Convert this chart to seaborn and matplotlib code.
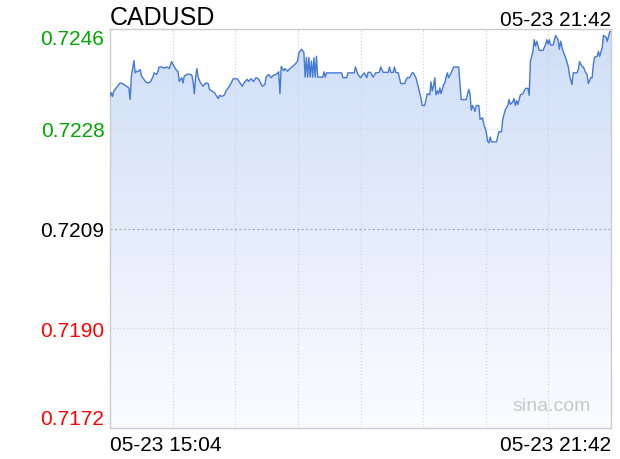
import numpy as np
import pandas as pd
import matplotlib
matplotlib.use("Agg")
import matplotlib.pyplot as plt
from matplotlib.colors import LinearSegmentedColormap
import seaborn as sns

# intraday CADUSD quotes, minutes after 15:04
minutes_a = [0, 1, 2, 3, 5, 8, 10, 13, 15, 16,
             17, 18, 19, 20, 21, 22, 24, 25, 26, 28,
             30, 32, 34, 35, 37, 38, 39, 41, 43, 45,
             47, 49, 50, 51, 53, 54, 55, 57, 58, 59,
             62, 65, 66, 67, 68, 69, 70, 72, 74, 76,
             78, 79, 81, 83, 84, 86, 87, 89, 91, 92,
             94, 96, 98, 101]
prices_a = [0.72337, 0.72344, 0.72337, 0.72347, 0.72353, 0.72362, 0.72361, 0.72356, 0.72353, 0.72331,
            0.72375, 0.72390, 0.72404, 0.72381, 0.72384, 0.72383, 0.72387, 0.72375, 0.72372, 0.72365,
            0.72362, 0.72364, 0.72373, 0.72381, 0.72378, 0.72383, 0.72392, 0.72392, 0.72390, 0.72392,
            0.72389, 0.72402, 0.72397, 0.72393, 0.72385, 0.72384, 0.72365, 0.72372, 0.72362, 0.72375,
            0.72379, 0.72377, 0.72365, 0.72342, 0.72373, 0.72389, 0.72373, 0.72362, 0.72356, 0.72362,
            0.72361, 0.72350, 0.72347, 0.72344, 0.72340, 0.72333, 0.72339, 0.72337, 0.72340, 0.72347,
            0.72353, 0.72361, 0.72370, 0.72370]

minutes_b = [102, 105, 107, 109, 110, 112, 114, 116, 118, 119,
             121, 123, 124, 126, 128, 130, 132, 134, 135, 136,
             138, 139, 141, 143, 145, 147, 149, 150, 152, 154,
             155, 156, 157, 158, 159, 160, 161, 162, 163, 164,
             165, 169, 170, 171, 172, 184, 185, 188, 189, 194,
             195, 197, 199]
prices_b = [0.72367, 0.72356, 0.72364, 0.72369, 0.72365, 0.72370, 0.72365, 0.72372, 0.72370, 0.72365,
            0.72356, 0.72359, 0.72373, 0.72378, 0.72372, 0.72377, 0.72378, 0.72383, 0.72342, 0.72393,
            0.72385, 0.72389, 0.72384, 0.72389, 0.72393, 0.72397, 0.72403, 0.72418, 0.72425, 0.72420,
            0.72373, 0.72410, 0.72373, 0.72410, 0.72373, 0.72403, 0.72373, 0.72409, 0.72373, 0.72412,
            0.72373, 0.72373, 0.72383, 0.72373, 0.72381, 0.72381, 0.72372, 0.72372, 0.72381, 0.72381,
            0.72392, 0.72378, 0.72372]

minutes_c = [202, 204, 205, 207, 209, 211, 214, 215, 217, 221,
             222, 223, 225, 226, 227, 229, 231, 234, 236, 238,
             240, 241, 243, 245, 247, 248, 250, 251, 252, 254,
             255, 256, 257, 258, 259, 260, 261, 262, 263, 265,
             266, 267, 268, 269, 271, 273, 277, 279, 283, 285,
             286, 287, 288, 290, 291, 293, 294, 296, 297, 298,
             299, 300, 301, 302, 303, 307, 309, 311, 312, 314,
             316, 317, 318, 320, 321, 322, 323, 324, 326, 328,
             330, 332, 333, 334, 336, 337, 338, 339, 341, 344,
             346, 347, 348, 349, 350, 352, 354, 356, 357, 358,
             360, 362, 364, 365, 367, 368, 371, 372, 373, 375,
             376, 378, 379, 380, 382, 383, 384, 385, 387, 388,
             389, 391, 392, 394, 395, 397, 398]
prices_c = [0.72381, 0.72372, 0.72382, 0.72382, 0.72373, 0.72381, 0.72382, 0.72392, 0.72382, 0.72382,
            0.72392, 0.72382, 0.72382, 0.72392, 0.72382, 0.72381, 0.72361, 0.72361, 0.72372, 0.72372,
            0.72381, 0.72381, 0.72372, 0.72354, 0.72334, 0.72320, 0.72320, 0.72331, 0.72342, 0.72340,
            0.72364, 0.72347, 0.72356, 0.72372, 0.72340, 0.72347, 0.72342, 0.72353, 0.72342, 0.72359,
            0.72362, 0.72373, 0.72381, 0.72372, 0.72381, 0.72392, 0.72392, 0.72331, 0.72331, 0.72350,
            0.72342, 0.72311, 0.72320, 0.72309, 0.72320, 0.72320, 0.72294, 0.72297, 0.72284, 0.72278,
            0.72269, 0.72253, 0.72250, 0.72261, 0.72252, 0.72252, 0.72271, 0.72271, 0.72294, 0.72312,
            0.72320, 0.72331, 0.72322, 0.72327, 0.72333, 0.72320, 0.72329, 0.72322, 0.72340, 0.72342,
            0.72352, 0.72352, 0.72339, 0.72403, 0.72421, 0.72443, 0.72431, 0.72440, 0.72423, 0.72423,
            0.72434, 0.72443, 0.72435, 0.72443, 0.72433, 0.72433, 0.72451, 0.72443, 0.72425, 0.72440,
            0.72421, 0.72409, 0.72393, 0.72377, 0.72359, 0.72381, 0.72381, 0.72387, 0.72402, 0.72393,
            0.72392, 0.72381, 0.72378, 0.72361, 0.72372, 0.72372, 0.72397, 0.72410, 0.72412, 0.72421,
            0.72412, 0.72428, 0.72451, 0.72448, 0.72440, 0.72458, 0.72458]

prev_close = 0.72090
price_step = 0.001865
y_labels = ["0.7246", "0.7228", "0.7209", "0.7190", "0.7172"]
y_colors = ["#00a800", "#00a800", "#000000", "#ff0000", "#ff0000"]
time_labels = ["05-23 15:04", "05-23 21:42"]
session_len = 398
symbol = "CADUSD"

df = pd.DataFrame({
    "minute": minutes_a + minutes_b + minutes_c,
    "price": prices_a + prices_b + prices_c,
})

sns.set_style("white")
plt.rcParams["font.family"] = ["Liberation Sans", "DejaVu Sans"]
plt.rcParams["text.color"] = "black"
plt.rcParams["xtick.color"] = "black"
plt.rcParams["ytick.color"] = "black"

fig = plt.figure(figsize=(6.2, 4.6), dpi=100)
ax = fig.add_axes([110 / 620, 31 / 460, 501 / 620, 399 / 460])

ymin = prev_close - 2 * price_step
ymax = prev_close + 2 * price_step
ax.set_xlim(0, session_len)
ax.set_ylim(ymin, ymax)

# gradient area under the line
cmap = LinearSegmentedColormap.from_list("area", ["#fbfcff", "#cfdef7"])
grad = np.linspace(0, 1, 256).reshape(-1, 1)
im = ax.imshow(grad, extent=[0, session_len, ymin, ymax], origin="lower",
               aspect="auto", cmap=cmap, zorder=1)
poly = ax.fill_between(df["minute"], df["price"], ymin, facecolor="none", edgecolor="none")
im.set_clip_path(poly.get_paths()[0], transform=ax.transData)

# grid
for k in range(1, 8):
    ax.axvline(session_len * k / 8, color="#cfcfcf", lw=0.8, ls=(0, (1, 2)), zorder=2)
for k in [-1, 1]:
    ax.axhline(prev_close + k * price_step, color="#cfcfcf", lw=0.8, ls=(0, (1, 2)), zorder=2)
ax.axhline(prev_close, color="#a3abbf", lw=0.8, ls=(0, (2, 2)), zorder=2)

sns.lineplot(data=df, x="minute", y="price", ax=ax, color="#4479d4", linewidth=1.0, zorder=3)

for s in ax.spines.values():
    s.set_color("#cccccc")
    s.set_linewidth(1.0)

ax.set_xlabel("")
ax.set_ylabel("")

levels = [prev_close + (2 - i) * price_step for i in range(5)]
ax.set_yticks(levels)
ax.set_yticklabels(y_labels, fontsize=15)
ax.tick_params(axis="y", length=0, pad=4)
for i, lab in enumerate(ax.get_yticklabels()):
    lab.set_color(y_colors[i])
    if i == 0:
        lab.set_verticalalignment("top")
    elif i == len(y_labels) - 1:
        lab.set_verticalalignment("bottom")

ax.set_xticks([0, session_len])
ax.set_xticklabels(time_labels, fontsize=15, color="black")
ax.tick_params(axis="x", length=0, pad=5)
xl = ax.get_xticklabels()
xl[0].set_horizontalalignment("left")
xl[1].set_horizontalalignment("right")

ax.text(0, 1.0, symbol, transform=ax.transAxes, fontsize=18, color="black",
        ha="left", va="bottom")
ax.text(1.0, 1.0, time_labels[1], transform=ax.transAxes, fontsize=15, color="black",
        ha="right", va="bottom")
ax.text(0.96, 0.035, "sina.com", transform=ax.transAxes, fontsize=14,
        color="#c8c8c8", ha="right", va="bottom", zorder=4)

fig.savefig("out.png", dpi=100)
